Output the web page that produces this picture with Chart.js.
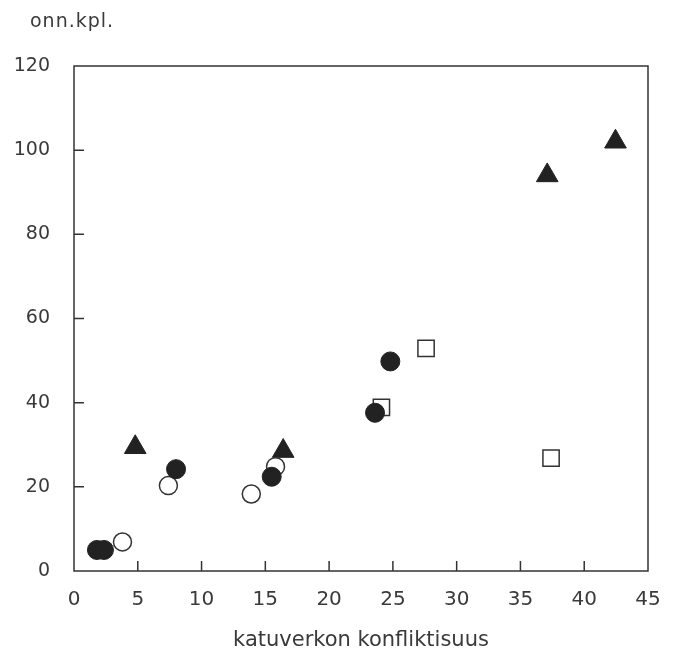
<!DOCTYPE html>
<html>
<head>
<meta charset="utf-8">
<script src="https://cdn.jsdelivr.net/npm/chart.js@4.4.1/dist/chart.umd.min.js"></script>
<style>
  html, body { margin: 0; padding: 0; background: #fff; }
  #wrap { width: 678px; height: 653px; }
</style>
</head>
<body>
<div id="wrap"><canvas id="myChart" width="678" height="653"></canvas></div>
<script>
// values
const filledCircles = [
    {x: 1.8, y: 5}, {x: 2.35, y: 5}, {x: 8.0, y: 24.2},
    {x: 15.5, y: 22.4}, {x: 23.6, y: 37.6}, {x: 24.8, y: 49.8}
];
const openCircles = [
    {x: 3.8, y: 6.9}, {x: 7.4, y: 20.3}, {x: 13.9, y: 18.3}, {x: 15.8, y: 24.8}
];
const triangles = [
    {x: 4.8, y: 29.4}, {x: 16.4, y: 28.5}, {x: 37.1, y: 94}, {x: 42.45, y: 102}
];
const squares = [
    {x: 24.1, y: 38.9}, {x: 27.6, y: 52.9}, {x: 37.4, y: 26.8}
];
const xTicks = [0, 5, 10, 15, 20, 25, 30, 35, 40, 45];
const yTicks = [0, 20, 40, 60, 80, 100, 120];

const ink = '#222';
const textColor = '#3a3a3a';
const fontFamily = '"DejaVu Sans", sans-serif';

// frame + inward ticks + y title
const framePlugin = {
    id: 'frame',
    afterDraw(chart) {
        const c = chart.ctx;
        const a = chart.chartArea;
        const xs = chart.scales.x, ys = chart.scales.y;
        c.save();
        c.strokeStyle = '#333';
        c.lineWidth = 1.5;
        c.strokeRect(a.left, a.top, a.right - a.left, a.bottom - a.top);
        c.beginPath();
        xTicks.slice(1, -1).forEach(v => {
            let px = xs.getPixelForValue(v);
            c.moveTo(px, a.bottom);
            c.lineTo(px, a.bottom - 10);
        });
        yTicks.slice(1, -1).forEach(v => {
            let py = ys.getPixelForValue(v);
            c.moveTo(a.left, py);
            c.lineTo(a.left + 10, py);
        });
        c.stroke();
        c.fillStyle = textColor;
        c.font = '19px ' + fontFamily;
        c.letterSpacing = '1px';
        c.textBaseline = 'middle';
        c.fillText('onn.kpl.', 30, 22);
        c.restore();
    }
};

const ctx = document.getElementById('myChart');

var chart = new Chart(ctx, {
    type: 'scatter',
    data: {
        datasets: [{
            label: 'filled',
            data: filledCircles,
            pointStyle: 'circle',
            pointRadius: 9.5,
            backgroundColor: ink,
            borderColor: ink,
            borderWidth: 1
        }, {
            label: 'open',
            data: openCircles,
            pointStyle: 'circle',
            pointRadius: 9,
            backgroundColor: '#fff',
            borderColor: '#333',
            borderWidth: 1.5
        }, {
            label: 'triangle',
            data: triangles,
            pointStyle: 'triangle',
            pointRadius: 12.5,
            backgroundColor: ink,
            borderColor: ink,
            borderWidth: 1
        }, {
            label: 'square',
            data: squares,
            pointStyle: 'rect',
            pointRadius: 11.5,
            backgroundColor: '#fff',
            borderColor: '#333',
            borderWidth: 1.5
        }]
    },
    options: {
        responsive: false,
        animation: false,
        layout: { padding: { top: 66, right: 30, left: 0, bottom: 0 } },
        plugins: {
            legend: { display: false },
            tooltip: { enabled: false }
        },
        scales: {
            x: {
                type: 'linear',
                min: 0,
                max: 45,
                afterFit: (s) => { s.height = 82; },
                afterBuildTicks: (s) => { s.ticks = xTicks.map(v => ({value: v})); },
                grid: { display: false },
                border: { display: false },
                ticks: {
                    color: textColor,
                    font: { family: fontFamily, size: 20 },
                    padding: 9
                },
                title: {
                    display: true,
                    text: 'katuverkon konfliktisuus',
                    color: textColor,
                    font: { family: fontFamily, size: 21 },
                    padding: { top: 4, bottom: 0 }
                }
            },
            y: {
                type: 'linear',
                min: 0,
                max: 120,
                afterFit: (s) => { s.width = 74; },
                afterBuildTicks: (s) => { s.ticks = yTicks.map(v => ({value: v})); },
                grid: { display: false },
                border: { display: false },
                ticks: {
                    color: textColor,
                    font: { family: fontFamily, size: 19 },
                    padding: 16
                }
            }
        }
    },
    plugins: [framePlugin]
});
</script>
</body>
</html>
